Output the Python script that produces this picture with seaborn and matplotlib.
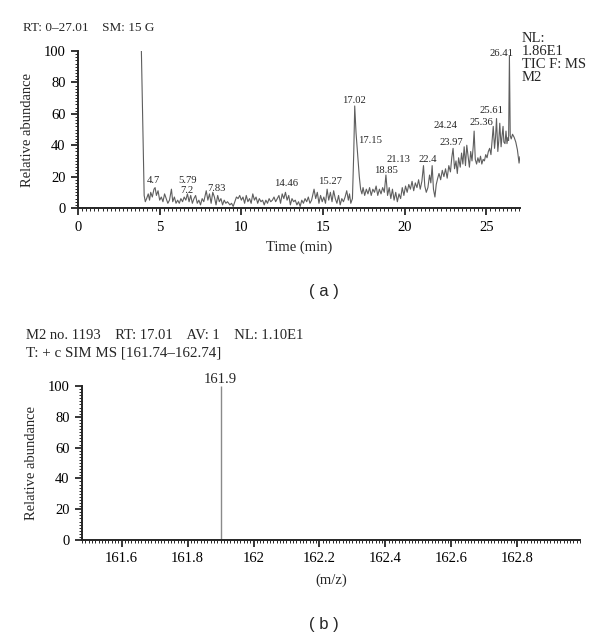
# GC-MS chromatogram (TIC) and SIM spectrum of peak at 17.01 min

import numpy as np
import pandas as pd
import matplotlib
matplotlib.use("Agg")
import matplotlib.pyplot as plt
from matplotlib.ticker import MultipleLocator
import seaborn as sns

# --- (a) TIC trace ---
rt_min = [3.88, 4.05, 4.12, 4.2, 4.3, 4.38, 4.45, 4.55, 4.65, 4.72, 4.8, 4.9, 5.0, 5.1, 5.2,
          5.3, 5.4, 5.5, 5.6, 5.72, 5.8, 5.9, 6.0, 6.1, 6.2, 6.3, 6.4, 6.5, 6.6, 6.7,
          6.8, 6.9, 7.0, 7.1, 7.2, 7.3, 7.4, 7.5, 7.6, 7.7, 7.85, 7.95, 8.05, 8.15, 8.25,
          8.35, 8.45, 8.55, 8.65, 8.75, 8.85, 8.95, 9.05, 9.15, 9.3, 9.4, 9.5, 9.6, 9.7, 9.8,
          9.9, 10.0, 10.1, 10.2, 10.3, 10.4, 10.5, 10.6, 10.7, 10.8, 10.9, 11.0, 11.1, 11.2, 11.3,
          11.4, 11.5, 11.6, 11.7, 11.8, 11.9, 12.0, 12.1, 12.2, 12.3, 12.4, 12.5, 12.6, 12.7, 12.8,
          12.9, 13.0, 13.1, 13.2, 13.3, 13.4, 13.5, 13.6, 13.7, 13.8, 13.9, 14.0, 14.1, 14.2, 14.3,
          14.45, 14.55, 14.65, 14.75, 14.85, 14.95, 15.05, 15.15, 15.25, 15.35, 15.45, 15.55, 15.65, 15.75, 15.85,
          15.95, 16.05, 16.15, 16.25, 16.35, 16.45, 16.55, 16.62, 16.7, 16.8, 16.88, 16.94, 17.02, 17.09, 17.15,
          17.22, 17.3, 17.38, 17.45, 17.55, 17.65, 17.75, 17.85, 17.95, 18.05, 18.15, 18.25, 18.35, 18.45, 18.55,
          18.65, 18.75, 18.85, 18.95, 19.05, 19.15, 19.25, 19.35, 19.45, 19.55, 19.65, 19.75, 19.85, 19.95, 20.05,
          20.15, 20.25, 20.35, 20.45, 20.55, 20.65, 20.75, 20.85, 20.95, 21.05, 21.15, 21.23, 21.32, 21.42, 21.52,
          21.6, 21.68, 21.76, 21.85, 21.93, 22.02, 22.1, 22.2, 22.3, 22.4, 22.5, 22.6, 22.7, 22.8, 22.88,
          22.96, 23.05, 23.14, 23.22, 23.3, 23.4, 23.48, 23.56, 23.64, 23.72, 23.8, 23.88, 23.96, 24.04, 24.12,
          24.2, 24.25, 24.32, 24.4, 24.48, 24.56, 24.64, 24.72, 24.8, 24.88, 24.96, 25.04, 25.12, 25.2, 25.28,
          25.36, 25.42, 25.5, 25.56, 25.62, 25.7, 25.76, 25.82, 25.9, 25.96, 26.02, 26.07, 26.14, 26.2, 26.26,
          26.32, 26.36, 26.41, 26.46, 26.52, 26.6, 26.7, 26.8, 26.9, 27.0, 27.05]
abundance = [100, 8, 4, 6, 9, 5, 10, 7, 12, 13, 8, 11, 5, 7, 4,
             9, 6, 3, 5, 12, 4, 7, 3, 5, 3, 6, 4, 7, 5, 9,
             4, 8, 3, 6, 8, 3, 5, 2, 6, 4, 11, 5, 9, 3, 10,
             7, 2, 8, 4, 6, 2, 5, 3, 4, 2, 3, 1, 4, 7, 6,
             8, 5, 7, 3, 8, 4, 6, 3, 9, 5, 7, 3, 6, 4, 5,
             2, 5, 3, 6, 4, 5, 7, 4, 6, 8, 3, 9, 6, 10, 5,
             8, 2, 6, 4, 5, 2, 4, 1, 5, 3, 6, 4, 7, 3, 5,
             12, 6, 10, 3, 8, 4, 7, 3, 12, 5, 10, 4, 11, 6, 3,
             8, 2, 6, 4, 7, 11, 5, 9, 3, 6, 35, 65, 48, 38, 30,
             20, 12, 9, 13, 8, 12, 9, 13, 8, 12, 10, 14, 8, 12, 9,
             13, 10, 21, 8, 13, 6, 12, 5, 10, 4, 9, 6, 13, 8, 14,
             10, 15, 12, 17, 11, 16, 13, 18, 12, 17, 27, 14, 10, 13, 21,
             16, 27, 12, 7, 15, 19, 22, 18, 24, 20, 25, 19, 27, 23, 32,
             38, 25, 30, 22, 32, 26, 35, 28, 39, 27, 40, 33, 26, 36, 30,
             40, 49, 31, 28, 32, 29, 33, 28, 31, 30, 34, 32, 36, 38, 34,
             44, 52, 38, 45, 57, 36, 43, 54, 39, 46, 52, 42, 41, 49, 41,
             45, 43, 97, 46, 44, 47, 45, 42, 37, 28.6, 32.7]

# peak labels (text, position) as printed on the trace
peak_labels = ["4.7", "5.79", "7.2", "7.83", "14.46", "15.27", "17.02", "17.15", "18.85",
               "21.13", "22.4", "24.24", "23.97", "25.36", "25.61", "26.41"]
peak_label_x = [4.59, 6.68, 6.68, 8.47, 12.76, 15.45, 16.92, 17.86, 18.86,
                19.6, 21.41, 22.52, 22.88, 24.68, 25.31, 25.9]
peak_label_y = [17.8, 17.8, 11.0, 12.5, 15.3, 16.8, 68.4, 42.9, 23.8,
                30.6, 31.2, 52.4, 41.6, 54.3, 62.0, 98.5]

# --- (b) SIM spectrum ---
mz = [161.9]
intensity = [100]

sns.set_style("ticks")
plt.rcParams["font.family"] = ["Liberation Serif", "DejaVu Serif"]

fig = plt.figure(figsize=(6, 6.41), dpi=100)

def style_axis(ax):
    sns.despine(ax=ax)
    ax.spines["left"].set_linewidth(1.4)
    ax.spines["bottom"].set_linewidth(1.4)
    ax.tick_params(which="major", direction="out", length=5, width=1.1, labelsize=10.5, pad=4, colors="black")
    ax.tick_params(which="minor", direction="out", length=2.5, width=0.7)
    ax.set_ylim(0, 100)
    ax.yaxis.set_major_locator(MultipleLocator(20))
    ax.yaxis.set_minor_locator(MultipleLocator(2))
    ax.set_ylabel("Relative abundance", fontsize=10.5, labelpad=7)

# (a) chromatogram
ax1 = fig.add_axes([0.13, 0.6755, 0.737, 0.2449])
tic = pd.DataFrame({"rt": rt_min, "ab": abundance})
sns.lineplot(data=tic, x="rt", y="ab", ax=ax1, color="#5e5e5e", linewidth=0.8, sort=False)
ax1.set_xlim(0, 27.07)
style_axis(ax1)
ax1.xaxis.set_major_locator(MultipleLocator(5))
ax1.xaxis.set_minor_locator(MultipleLocator(0.25))
ax1.set_xlabel("Time (min)", fontsize=10.5, labelpad=5)
for txt, x, y in zip(peak_labels, peak_label_x, peak_label_y):
    ax1.text(x, y, txt, fontsize=7.7, ha="center", va="center", clip_on=False)
ax1.text(1.003, 1.12, "NL:\n1.86E1\nTIC F: MS\nM2", transform=ax1.transAxes,
         fontsize=10.5, ha="left", va="top", linespacing=1.0)
fig.text(0.038, 0.957, "RT: 0\u201327.01    SM: 15 G", fontsize=9.5, ha="left", va="center")
fig.text(0.54, 0.545, "( a )", fontsize=12, family="Liberation Sans", ha="center", va="center")

# (b) mass spectrum
ax2 = fig.add_axes([0.1367, 0.1576, 0.83, 0.2402])
ax2.vlines(mz, 0, intensity, color="#8a8a8a", linewidth=1.0)
ax2.set_xlim(161.48, 162.99)
style_axis(ax2)
ax2.xaxis.set_minor_locator(MultipleLocator(0.01))
ax2.set_xticks([161.6, 161.8, 162.0, 162.2, 162.4, 162.6, 162.8])
ax2.set_xticklabels(["161.6", "161.8", "162", "162.2", "162.4", "162.6", "162.8"])
ax2.set_xlabel("(m/z)", fontsize=10.5, labelpad=6)
for x, y in zip(mz, intensity):
    ax2.text(x, y + 4, f"{x:g}", fontsize=10.5, ha="center", va="center", clip_on=False)
fig.text(0.043, 0.477, "M2 no. 1193    RT: 17.01    AV: 1    NL: 1.10E1", fontsize=10.5, ha="left", va="center")
fig.text(0.043, 0.449, "T: + c SIM MS [161.74\u2013162.74]", fontsize=10.8, ha="left", va="center")
fig.text(0.54, 0.025, "( b )", fontsize=12, family="Liberation Sans", ha="center", va="center")

fig.savefig("out.png", dpi=100)
